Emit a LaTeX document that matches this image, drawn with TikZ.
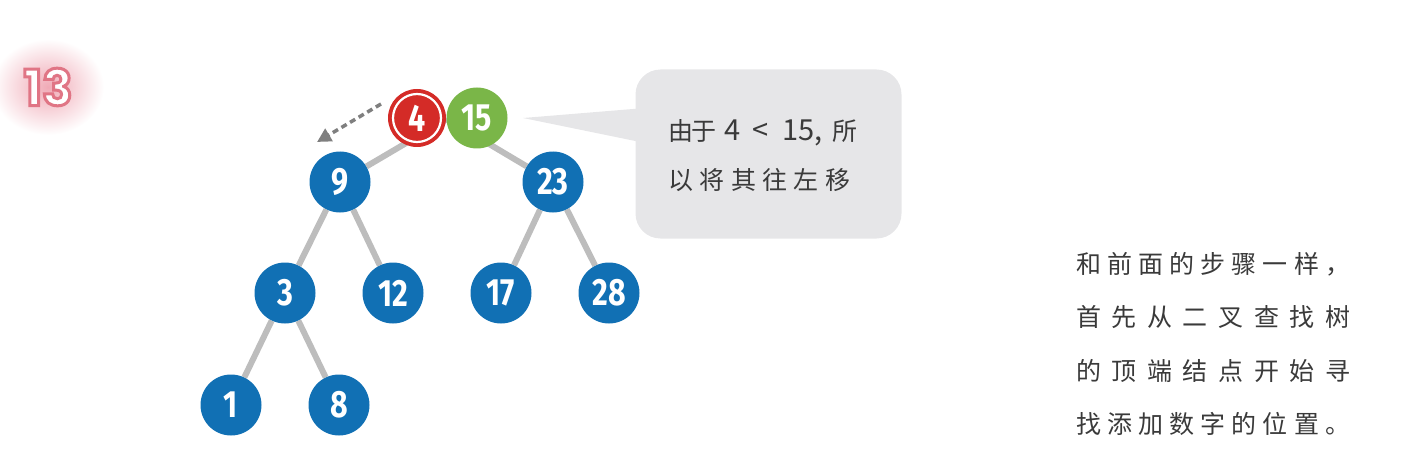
\documentclass[tikz,border=0pt]{standalone}
\usepackage{fontspec}
\usepackage{graphicx}
\newfontfamily\cjk{Noto Sans CJK SC}
\newfontfamily\numfont{Fira Sans}
\newfontfamily\labfont{Poppins}
\usetikzlibrary{arrows.meta,backgrounds,calc}
\definecolor{nodeblue}{HTML}{1170B4}
\definecolor{edgegray}{HTML}{BDBDBD}
\definecolor{nodered}{HTML}{D42B27}
\definecolor{nodegreen}{HTML}{7AB648}
\definecolor{arrowgray}{HTML}{7F7F7F}
\definecolor{bubble}{HTML}{E6E6E8}
\definecolor{txt}{HTML}{3A3A3A}
\definecolor{glow}{HTML}{F0AAB6}
\newcommand\tnum[1]{\scalebox{0.8}[1]{#1}}
\newcommand\lat[1]{{\fontsize{29}{29}\selectfont #1}}
\newcommand\outlinedtext[1]{{\color{white}\special{pdf:literal direct 2 Tr 3 w 0.878 0.459 0.522 RG}#1\special{pdf:literal direct 0 Tr}}}
\begin{document}
\begin{tikzpicture}[x=1pt,y=-1pt,
  tnode/.style={circle,minimum size=61pt,inner sep=0pt,fill=nodeblue,text=white,
    font=\numfont\bfseries\fontsize{38}{38}\selectfont},
  edge/.style={draw=edgegray,line width=6pt},
  cjktext/.style={anchor=base west,inner sep=0pt,text=txt,font=\cjk\fontsize{25}{25}\selectfont},
  labtext/.style={inner sep=0pt,font=\labfont\bfseries\fontsize{50}{50}\selectfont}]
\useasboundingbox (0,0) rectangle (1408,476);

% label 13 with glow
\coordinate (lab) at (48,87);
\shade[inner color=glow, outer color=white] (lab) ellipse (56 and 48);
\node[labtext] (labw) at (lab) {\outlinedtext{13}};

% tree nodes
\coordinate (root) at (447,119);
\node[tnode] (n9) at (340,182) {\tnum{9}};
\node[tnode] (n23) at (553,182) {\tnum{23}};
\node[tnode] (n3) at (285,293) {\tnum{3}};
\node[tnode] (n12) at (393,293) {\tnum{12}};
\node[tnode] (n17) at (501,293) {\tnum{17}};
\node[tnode] (n28) at (609,293) {\tnum{28}};
\node[tnode] (n1) at (231,405) {\tnum{1}};
\node[tnode] (n8) at (339,405) {\tnum{8}};
\node[tnode,fill=nodegreen] (n15) at (477,118) {\tnum{15}};
\node[tnode,fill=nodered,minimum size=58pt] (n4) at (417,118) {\tnum{4}};
\draw[white,line width=2.2pt] (n4.center) circle (24);

\begin{scope}[on background layer]
  \draw[edge] (root) -- (n9);
  \draw[edge] (root) -- (n23);
  \draw[edge] (n9) -- (n3);
  \draw[edge] (n9) -- (n12);
  \draw[edge] (n23) -- (n17);
  \draw[edge] (n23) -- (n28);
  \draw[edge] (n3) -- (n1);
  \draw[edge] (n3) -- (n8);
\end{scope}

% dashed arrow
\coordinate (as) at (381,104);
\coordinate (ae) at (317,142);
\draw[arrowgray,line width=3.5pt,dash pattern=on 6pt off 4pt,
  -{Triangle[length=14pt,width=14pt]}] (as) -- (ae);

% callout
\coordinate (tip) at (523,118);
\fill[bubble] (tip) -- (645,108) -- (645,143) -- cycle;
\node[fill=bubble,rounded corners=25pt,minimum width=266pt,minimum height=169pt,inner sep=0pt]
  (bub) at (768.5,154) {};
\node[cjktext] (c1) at (668,140) {\makebox[23pt][l]{由}\makebox[33pt][l]{于}\makebox[28pt][l]{\lat{4}}\makebox[30pt][l]{\lat{<}}\makebox[50pt][l]{\lat{15,}}所};
\node[cjktext] (c2) at (668,189) {\makebox[182pt][s]{以\hfill 将\hfill 其\hfill 往\hfill 左\hfill 移}};

% right text
\node[cjktext] (r1) at (1076,273) {\makebox[274pt][s]{和\hfill 前\hfill 面\hfill 的\hfill 步\hfill 骤\hfill 一\hfill 样\hfill ，}};
\node[cjktext] (r2) at (1076,326) {\makebox[274pt][s]{首\hfill 先\hfill 从\hfill 二\hfill 叉\hfill 查\hfill 找\hfill 树}};
\node[cjktext] (r3) at (1076,380) {\makebox[274pt][s]{的\hfill 顶\hfill 端\hfill 结\hfill 点\hfill 开\hfill 始\hfill 寻}};
\node[cjktext] (r4) at (1076,433) {\makebox[274pt][s]{找\hfill 添\hfill 加\hfill 数\hfill 字\hfill 的\hfill 位\hfill 置\hfill 。}};
\end{tikzpicture}
\end{document}
